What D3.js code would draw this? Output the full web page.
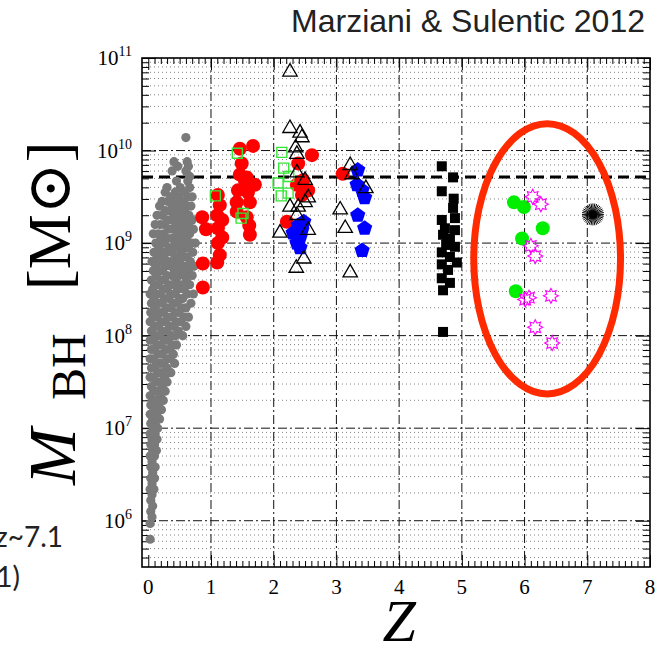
<html>
<script src="https://d3js.org/d3.v7.min.js"></script>
<style>
body { margin:0; background:#fff; }
svg text { font-family: "Liberation Serif", "DejaVu Serif", serif; }
</style>
<body>
<div id="chart"></div>
<script>
// every point is [z, log10(M_BH / M_sun)]
var grayPts = [
 [0.60,10.14],[0.41,9.88],[0.62,9.88],[0.47,9.83],[0.64,9.83],[0.38,9.78],[0.60,9.78],[0.66,9.72],
 [0.63,9.67],[0.45,9.67],[0.30,9.60],[0.51,9.60],[0.66,9.60],[0.27,9.55],[0.43,9.55],[0.58,9.55],
 [0.36,9.50],[0.49,9.50],[0.64,9.50],[0.70,9.50],[0.22,9.45],[0.31,9.45],[0.45,9.45],[0.56,9.45],
 [0.18,9.40],[0.39,9.40],[0.52,9.40],[0.62,9.40],[0.68,9.40],[0.27,9.35],[0.34,9.35],[0.47,9.35],[0.58,9.35],
 [0.14,9.30],[0.22,9.30],[0.41,9.30],[0.53,9.30],[0.65,9.30],[0.30,9.25],[0.37,9.25],[0.48,9.25],[0.60,9.25],[0.70,9.25],
 [0.11,9.20],[0.19,9.20],[0.26,9.20],[0.44,9.20],[0.55,9.20],[0.64,9.20],[0.33,9.15],[0.40,9.15],[0.51,9.15],[0.59,9.15],[0.72,9.15],
 [0.08,9.10],[0.16,9.10],[0.24,9.10],[0.46,9.10],[0.56,9.10],[0.66,9.10],[0.20,9.05],[0.30,9.05],[0.38,9.05],[0.50,9.05],[0.61,9.05],
 [0.12,9.00],[0.26,9.00],[0.43,9.00],[0.54,9.00],[0.69,9.00],[0.75,9.00],[0.17,8.95],[0.33,8.95],[0.40,8.95],[0.48,8.95],[0.58,8.95],[0.64,8.95],
 [0.09,8.90],[0.22,8.90],[0.29,8.90],[0.37,8.90],[0.52,8.90],[0.71,8.90],[0.14,8.85],[0.25,8.85],[0.44,8.85],[0.56,8.85],[0.62,8.85],
 [0.06,8.80],[0.19,8.80],[0.32,8.80],[0.40,8.80],[0.50,8.80],[0.67,8.80],[0.12,8.75],[0.27,8.75],[0.36,8.75],[0.46,8.75],[0.59,8.75],[0.73,8.75],
 [0.08,8.70],[0.17,8.70],[0.23,8.70],[0.42,8.70],[0.53,8.70],[0.64,8.70],[0.13,8.65],[0.30,8.65],[0.38,8.65],[0.49,8.65],[0.57,8.65],[0.70,8.65],
 [0.05,8.60],[0.20,8.60],[0.26,8.60],[0.44,8.60],[0.61,8.60],[0.10,8.55],[0.16,8.55],[0.33,8.55],[0.40,8.55],[0.52,8.55],[0.66,8.55],
 [0.07,8.50],[0.24,8.50],[0.30,8.50],[0.47,8.50],[0.57,8.50],[0.03,8.45],[0.13,8.45],[0.19,8.45],[0.36,8.45],[0.43,8.45],[0.62,8.45],[0.72,8.45],
 [0.09,8.40],[0.26,8.40],[0.33,8.40],[0.50,8.40],[0.55,8.40],[0.05,8.35],[0.16,8.35],[0.22,8.35],[0.40,8.35],[0.46,8.35],[0.68,8.35],
 [0.11,8.30],[0.29,8.30],[0.36,8.30],[0.53,8.30],[0.60,8.30],[0.04,8.25],[0.18,8.25],[0.24,8.25],[0.43,8.25],[0.49,8.25],
 [0.08,8.20],[0.14,8.20],[0.31,8.20],[0.38,8.20],[0.57,8.20],[0.64,8.20],[0.03,8.15],[0.21,8.15],[0.27,8.15],[0.45,8.15],[0.52,8.15],
 [0.10,8.10],[0.16,8.10],[0.34,8.10],[0.41,8.10],[0.60,8.10],[0.05,8.05],[0.23,8.05],[0.29,8.05],[0.48,8.05],
 [0.12,8.00],[0.18,8.00],[0.37,8.00],[0.43,8.00],[0.55,8.00],[0.03,7.95],[0.08,7.95],[0.26,7.95],[0.32,7.95],
 [0.14,7.90],[0.20,7.90],[0.38,7.90],[0.45,7.90],[0.05,7.85],[0.10,7.85],[0.28,7.85],[0.34,7.85],
 [0.16,7.80],[0.22,7.80],[0.40,7.80],[0.03,7.75],[0.08,7.75],[0.30,7.75],[0.35,7.75],
 [0.13,7.70],[0.19,7.70],[0.25,7.70],[0.42,7.70],[0.05,7.65],[0.10,7.65],[0.30,7.65],
 [0.15,7.60],[0.21,7.60],[0.36,7.60],[0.03,7.55],[0.08,7.55],[0.26,7.55],[0.12,7.50],[0.18,7.50],[0.30,7.50],
 [0.05,7.45],[0.22,7.45],[0.09,7.40],[0.15,7.40],[0.27,7.40],[0.03,7.35],[0.19,7.35],[0.07,7.30],[0.12,7.30],[0.24,7.30],
 [0.04,7.25],[0.16,7.25],[0.09,7.20],[0.21,7.20],[0.03,7.15],[0.13,7.15],[0.07,7.10],[0.18,7.10],[0.04,7.05],[0.11,7.05],
 [0.08,7.00],[0.15,7.00],[0.03,6.94],[0.11,6.94],[0.06,6.88],[0.14,6.88],[0.04,6.82],[0.10,6.82],[0.07,6.76],[0.13,6.76],
 [0.03,6.70],[0.10,6.70],[0.06,6.64],[0.04,6.58],[0.11,6.58],[0.07,6.52],[0.04,6.46],[0.10,6.46],[0.06,6.40],
 [0.03,6.34],[0.09,6.34],[0.06,6.28],[0.04,6.22],[0.07,6.16],[0.04,6.10],[0.06,6.04],[0.03,5.97],[0.03,5.80]
];
var redPts = [
 [1.46,10.02],[1.67,10.05],[1.49,9.86],[1.46,9.74],[1.57,9.71],[1.54,9.68],[1.70,9.63],[1.43,9.57],[1.59,9.55],
 [1.41,9.44],[1.62,9.44],[1.41,9.34],[1.57,9.28],[1.61,9.19],[1.62,9.09],
 [1.11,9.52],[1.14,9.41],[1.10,9.30],[1.18,9.25],[1.11,9.16],[1.18,9.06],[1.11,9.00],[1.14,8.87],[1.10,8.79],
 [0.86,9.28],[0.92,9.15],[0.87,8.78],[0.87,8.52],
 [2.61,9.95],[2.39,9.86],[2.47,9.68],[2.37,9.63],[2.55,9.57],[2.45,9.52],[2.21,9.23],[3.10,9.75]
];
var greenSq = [
 [1.42,9.97],[1.07,9.51],[1.51,9.32],[1.48,9.27],
 [2.13,9.98],[2.16,9.81],[2.24,9.72],[2.07,9.65],[2.23,9.54],[2.12,9.51]
];
var triPts = [
 [2.26,10.85],[2.26,10.24],[2.42,10.19],[2.45,10.14],[2.35,10.03],[2.37,9.96],[2.37,9.76],[2.50,9.68],
 [2.26,9.39],[2.39,9.39],[2.50,9.44],[2.55,9.49],[2.37,9.30],[2.10,9.11],[2.55,9.14],[2.48,8.83],[2.36,8.73],
 [3.06,9.36],[3.14,9.16],[3.22,8.68],[3.22,9.84],[3.25,9.74],[3.47,9.59]
];
var bluePts = [
 [2.39,9.19],[2.31,9.11],[2.45,9.14],[2.37,9.00],[2.42,9.06],[2.48,9.23],[2.42,8.95],
 [3.34,9.79],[3.33,9.63],[3.41,9.57],[3.45,9.49],[3.34,9.30],[3.45,9.16],[3.41,8.92]
];
var blackSq = [
 [4.68,9.83],[4.86,9.71],[4.68,9.56],[4.87,9.48],[4.86,9.38],[4.68,9.25],[4.89,9.27],[4.89,9.14],
 [4.70,9.09],[4.76,9.00],[4.89,8.96],[4.68,8.90],[4.81,8.85],[4.92,8.79],[4.68,8.77],[4.78,8.71],
 [4.68,8.62],[4.81,8.57],[4.70,8.49],[4.73,9.16],[4.81,9.05],[4.75,8.98],[4.70,8.04]
];
var greenDots = [[5.83,9.44],[5.99,9.39],[6.29,9.16],[5.96,9.05],[5.86,8.48]];
var magStars = [
 [6.13,9.50],[6.26,9.42],[6.10,8.97],[6.17,8.86],[6.01,8.39],[6.07,8.41],[6.42,8.43],[6.17,8.09],[6.44,7.92]
];
var farQso = [[7.09,9.31]];

var xTicks = [0,1,2,3,4,5,6,7,8];
var yExps = [6,7,8,9,10,11];
var dashLevel = 9.715;        // thick dashed line, ~5.2e9
var ellZ = [5.19, 7.53];      // red ellipse, z range
var ellM = [7.37, 10.29];     // red ellipse, log M range

var pL = 142, pR = 650, pT = 58, pB = 567;

var svg = d3.select("#chart").append("svg")
    .attr("width", 664).attr("height", 648);

var x = d3.scaleLinear().domain([-0.1, 8]).range([pL, pR]);
var y = d3.scaleLog().domain([Math.pow(10, 5.5), 1e11]).range([pB, pT]);
function ym(l) { return y(Math.pow(10, l)); }

svg.append("clipPath").attr("id", "plotclip")
  .append("rect").attr("x", pL).attr("y", pT)
  .attr("width", pR - pL).attr("height", pB - pT);

// minor / major y values
var yMinor = [], yMajor = [];
for (var e = 5; e <= 10; e++) {
  for (var k = 1; k <= 9; k++) {
    var v = k * Math.pow(10, e);
    if (v < y.domain()[0] || v > y.domain()[1]) continue;
    if (k == 1) yMajor.push(v); else yMinor.push(v);
  }
}
yMajor.push(1e11);
var xMinor = d3.range(0, 80).map(function(i){ return i / 10; }).filter(function(d){ return d % 1 != 0; });

var grid = svg.append("g");
grid.selectAll("line.minor").data(yMinor).enter().append("line")
    .attr("class", "minor")
    .attr("x1", pL).attr("x2", pR)
    .attr("y1", function(d){ return y(d); }).attr("y2", function(d){ return y(d); })
    .style("stroke", "#777").style("stroke-width", 0.9).style("stroke-dasharray", "1,3");
grid.selectAll("line.hmaj").data(yMajor.slice(0, -1)).enter().append("line")
    .attr("class", "hmaj")
    .attr("x1", pL).attr("x2", pR)
    .attr("y1", function(d){ return y(d); }).attr("y2", function(d){ return y(d); })
    .style("stroke", "#111").style("stroke-width", 1).style("stroke-dasharray", "9,3,2,3");
grid.selectAll("line.vmaj").data(xTicks.slice(1, 8)).enter().append("line")
    .attr("class", "vmaj")
    .attr("y1", pT).attr("y2", pB)
    .attr("x1", function(d){ return x(d); }).attr("x2", function(d){ return x(d); })
    .style("stroke", "#111").style("stroke-width", 1).style("stroke-dasharray", "9,3,2,3");

// thick dashed line
svg.append("line")
    .attr("x1", pL).attr("x2", pR)
    .attr("y1", ym(dashLevel)).attr("y2", ym(dashLevel))
    .style("stroke", "#000").style("stroke-width", 3).style("stroke-dasharray", "11,6");

// ticks, all pointing inward
function tickStyle(g) {
  g.select(".domain").remove();
  g.selectAll("line").style("stroke", "#000").style("stroke-width", 1);
}
svg.append("g").attr("transform", "translate(0," + pB + ")")
   .call(d3.axisBottom(x).tickValues(xMinor).tickSize(-6).tickFormat("")).call(tickStyle);
svg.append("g").attr("transform", "translate(0," + pT + ")")
   .call(d3.axisTop(x).tickValues(xMinor).tickSize(-6).tickFormat("")).call(tickStyle);
svg.append("g").attr("transform", "translate(0," + pB + ")")
   .call(d3.axisBottom(x).tickValues(xTicks).tickSize(-12).tickFormat("")).call(tickStyle);
svg.append("g").attr("transform", "translate(0," + pT + ")")
   .call(d3.axisTop(x).tickValues(xTicks).tickSize(-12).tickFormat("")).call(tickStyle);
svg.append("g").attr("transform", "translate(" + pL + ",0)")
   .call(d3.axisLeft(y).tickValues(yMinor).tickSize(-7).tickFormat("")).call(tickStyle);
svg.append("g").attr("transform", "translate(" + pR + ",0)")
   .call(d3.axisRight(y).tickValues(yMinor).tickSize(-7).tickFormat("")).call(tickStyle);
svg.append("g").attr("transform", "translate(" + pL + ",0)")
   .call(d3.axisLeft(y).tickValues(yMajor).tickSize(-14).tickFormat("")).call(tickStyle);
svg.append("g").attr("transform", "translate(" + pR + ",0)")
   .call(d3.axisRight(y).tickValues(yMajor).tickSize(-14).tickFormat("")).call(tickStyle);

// data markers
var plot = svg.append("g").attr("clip-path", "url(#plotclip)");

plot.selectAll("circle.gray").data(grayPts).enter().append("circle")
    .attr("class", "gray")
    .attr("cx", function(d){ return x(d[0]); }).attr("cy", function(d){ return ym(d[1]); })
    .attr("r", 4.6).style("fill", "#7a7a7a");

plot.selectAll("circle.red").data(redPts).enter().append("circle")
    .attr("class", "red")
    .attr("cx", function(d){ return x(d[0]); }).attr("cy", function(d){ return ym(d[1]); })
    .attr("r", 7).style("fill", "#ff0000");

plot.selectAll("path.gsq").data(greenSq).enter().append("path")
    .attr("class", "gsq")
    .attr("d", d3.symbol().type(d3.symbolSquare).size(100))
    .attr("transform", function(d){ return "translate(" + x(d[0]) + "," + ym(d[1]) + ")"; })
    .style("fill", "none").style("stroke", "#33e633").style("stroke-width", 1.4);

function pentagon(r) {
  var p = d3.range(5).map(function(i){
    var a = -Math.PI / 2 + i * 2 * Math.PI / 5;
    return [r * Math.cos(a), r * Math.sin(a)];
  });
  return "M" + p.join("L") + "Z";
}
plot.selectAll("path.blue").data(bluePts).enter().append("path")
    .attr("class", "blue")
    .attr("d", pentagon(8))
    .attr("transform", function(d){ return "translate(" + x(d[0]) + "," + ym(d[1]) + ")"; })
    .style("fill", "#0000ff");

plot.selectAll("path.tri").data(triPts).enter().append("path")
    .attr("class", "tri")
    .attr("d", d3.symbol().type(d3.symbolTriangle).size(90))
    .attr("transform", function(d){ return "translate(" + x(d[0]) + "," + ym(d[1]) + ")"; })
    .style("fill", "none").style("stroke", "#000").style("stroke-width", 1.3);

plot.selectAll("path.bsq").data(blackSq).enter().append("path")
    .attr("class", "bsq")
    .attr("d", d3.symbol().type(d3.symbolSquare).size(100))
    .attr("transform", function(d){ return "translate(" + x(d[0]) + "," + ym(d[1]) + ")"; })
    .style("fill", "#000");

plot.selectAll("circle.gdot").data(greenDots).enter().append("circle")
    .attr("class", "gdot")
    .attr("cx", function(d){ return x(d[0]); }).attr("cy", function(d){ return ym(d[1]); })
    .attr("r", 7).style("fill", "#00ee00");

function star(n, r1, r2) {
  var p = d3.range(2 * n).map(function(i){
    var a = -Math.PI / 2 + i * Math.PI / n;
    var r = i % 2 ? r2 : r1;
    return [r * Math.cos(a), r * Math.sin(a)];
  });
  return "M" + p.join("L") + "Z";
}
plot.selectAll("path.star").data(magStars).enter().append("path")
    .attr("class", "star")
    .attr("d", star(8, 7.5, 4.5))
    .attr("transform", function(d){ return "translate(" + x(d[0]) + "," + ym(d[1]) + ")"; })
    .style("fill", "none").style("stroke", "#ff00ff").style("stroke-width", 1.1);

var burst = plot.selectAll("g.burst").data(farQso).enter().append("g")
    .attr("class", "burst")
    .attr("transform", function(d){ return "translate(" + x(d[0]) + "," + ym(d[1]) + ")"; });
burst.selectAll("line").data(d3.range(36)).enter().append("line")
    .attr("x1", 0).attr("y1", 0)
    .attr("x2", function(i){ return 11 * Math.cos(i * Math.PI / 18); })
    .attr("y2", function(i){ return 11 * Math.sin(i * Math.PI / 18); })
    .style("stroke", "#000").style("stroke-width", 1);
burst.append("circle").attr("r", 4).style("fill", "#000");

// red ellipse
svg.append("ellipse")
    .attr("cx", (x(ellZ[0]) + x(ellZ[1])) / 2)
    .attr("cy", (ym(ellM[0]) + ym(ellM[1])) / 2)
    .attr("rx", (x(ellZ[1]) - x(ellZ[0])) / 2)
    .attr("ry", (ym(ellM[0]) - ym(ellM[1])) / 2)
    .style("fill", "none").style("stroke", "#ff2a00").style("stroke-width", 7);

// frame
svg.append("rect").attr("x", pL).attr("y", pT)
    .attr("width", pR - pL).attr("height", pB - pT)
    .style("fill", "none").style("stroke", "#000").style("stroke-width", 1.6);

// tick labels
svg.selectAll("text.xlab").data(xTicks).enter().append("text")
    .attr("class", "xlab")
    .attr("x", function(d){ return x(d); }).attr("y", 594)
    .attr("text-anchor", "middle")
    .style("font-size", "21px")
    .text(function(d){ return d; });

var ylab = svg.selectAll("text.ylab").data(yExps).enter().append("text")
    .attr("class", "ylab")
    .attr("x", 132).attr("y", function(d){ return y(Math.pow(10, d)) + 7; })
    .attr("text-anchor", "end")
    .style("font-size", "21px");
ylab.append("tspan").text("10");
ylab.append("tspan").attr("dy", -9).style("font-size", "14px").text(function(d){ return d; });

// axis titles
svg.append("text")
    .attr("x", x(4)).attr("y", 641)
    .attr("text-anchor", "middle")
    .style("font-size", "60px").style("font-style", "italic")
    .text("Z");

svg.append("text")
    .attr("transform", "translate(75,485) rotate(-90)")
    .style("font-size", "68px").style("font-style", "italic")
    .text("M");
svg.append("text")
    .attr("transform", "translate(85,400) rotate(-90)")
    .style("font-size", "48px")
    .text("BH");
svg.append("text")
    .attr("transform", "translate(70,290) rotate(-90)")
    .style("font-size", "62px")
    .text("[M\u2299]");

// title and cut-off slide text
svg.append("text")
    .attr("x", 645).attr("y", 32)
    .attr("text-anchor", "end")
    .style("font-family", "'Liberation Sans', Arial, sans-serif")
    .style("font-size", "32px").style("fill", "#222")
    .text("Marziani & Sulentic 2012");

svg.append("text")
    .attr("x", 63).attr("y", 547)
    .attr("text-anchor", "end")
    .style("font-family", "Lato, 'Open Sans', sans-serif")
    .style("font-size", "28px").style("fill", "#222")
    .text("z~7.1");
svg.append("text")
    .attr("x", 20).attr("y", 587)
    .attr("text-anchor", "end")
    .style("font-family", "Lato, 'Open Sans', sans-serif")
    .style("font-size", "28px").style("fill", "#222")
    .text("1)");
</script>
</body>
</html>
